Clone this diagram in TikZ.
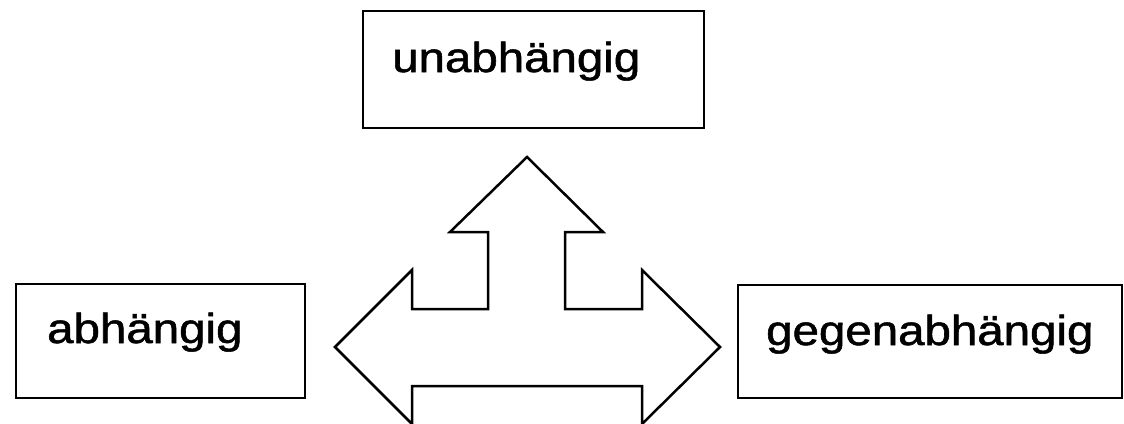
\documentclass[tikz,border=0pt]{standalone}
\usepackage{fontspec}
\setmainfont{Liberation Sans}
\newfontfamily\scanfont{Liberation Sans}[RawFeature={embolden=1.2}]
\tikzset{
  box/.style={draw=black, line width=2.5pt, fill=white, inner sep=0pt},
  lbl/.style={inner sep=0pt, anchor=base west, font=\scanfont\fontsize{42}{50}\selectfont},
  arrowshape/.style={draw=black, line width=2.5pt, line join=miter, fill=white}
}
\newcommand{\wide}[1]{\scalebox{1.13}[1]{#1}}
\begin{document}
\begin{tikzpicture}[x=1pt, y=-1pt]
\useasboundingbox (0,0) rectangle (1124,423);
% boxes
\node[box, minimum width=341pt, minimum height=117pt] (ub) at (533.5,69.5) {};
\node[box, minimum width=289pt, minimum height=114pt] (ab) at (160.5,341) {};
\node[box, minimum width=384pt, minimum height=113pt] (gb) at (930,341.5) {};
% labels
\node[lbl] (ut) at (392,72) {\wide{unabhängig}};
\node[lbl] (at) at (47,343) {\wide{abhängig}};
\node[lbl] (gt) at (766,345) {\wide{gegenabhängig}};
% three-way arrow
\draw[arrowshape] (527,157) -- (603,232) -- (565,232) -- (565,309) -- (642,309)
  -- (642,270) -- (720,347) -- (642,424) -- (642,386) -- (412,386) -- (412,424)
  -- (335,347) -- (412,270) -- (412,309) -- (488,309) -- (488,232) -- (450,232) -- cycle;
\end{tikzpicture}
\end{document}
